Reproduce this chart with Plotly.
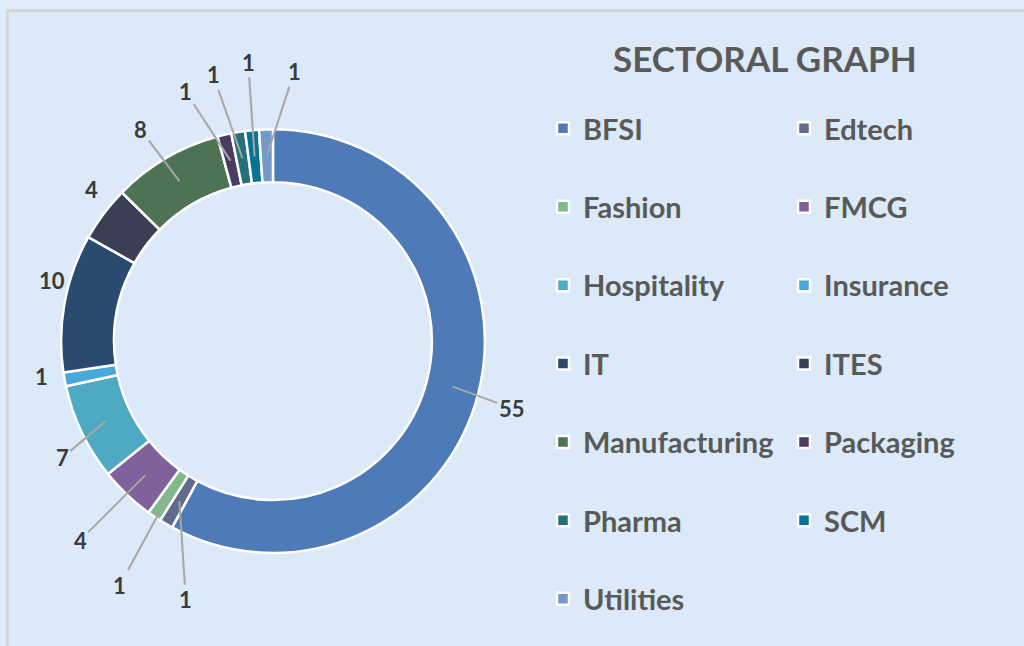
import math
import plotly.graph_objects as go

# sector counts, read clockwise from 12 o'clock
sectors = ["BFSI", "Edtech", "Fashion", "FMCG", "Hospitality", "Insurance", "IT",
           "ITES", "Manufacturing", "Packaging", "Pharma", "SCM", "Utilities"]
counts = [55, 1, 1, 4, 7, 1, 10, 4, 8, 1, 1, 1, 1]
colors = ["#4e7ab8", "#636b8c", "#80ba8a", "#7f629b", "#4ea9c3", "#4aa7da", "#2b4a70",
          "#3a3f55", "#4e7254", "#4a3b64", "#24707b", "#087397", "#7399c8"]

# where each data label sits: turn (deg) off the slice middle, distance from centre (px)
lbl_turn = [1.5, -11.7, -2, 0.5, -3.4, 1.8, 5, 2.9, -1.7, -6, -3.2, 0.6, 6.4]
lbl_dist = [248, 273, 288, 277, 241, 234, 229, 236, 249, 264, 273, 280, 270]
lbl_line = [True, True, True, True, True, False, False, False, True, True, True, True, True]

W, H = 1024, 646
PLOT_W = 540  # plot area width, legend goes right of it
dom_x = [0.113, 0.898]
dom_y = [0.144, 0.800]
hole = 0.75

cx = (dom_x[0] + dom_x[1]) / 2 * PLOT_W
cy = H - (dom_y[0] + dom_y[1]) / 2 * H
R = min((dom_x[1] - dom_x[0]) * PLOT_W, (dom_y[1] - dom_y[0]) * H) / 2
r_mid = R * (1 + hole) / 2


def to_px(ang, rad):
    a = math.radians(ang)
    return cx + rad * math.sin(a), cy - rad * math.cos(a)


fig = go.Figure()
fig.add_trace(go.Pie(
    labels=[s + "<br> " for s in sectors],
    values=counts,
    hole=hole,
    sort=False,
    direction="clockwise",
    rotation=0,
    textinfo="none",
    marker=dict(colors=colors, line=dict(color="white", width=2.5)),
    domain=dict(x=dom_x, y=dom_y),
))

total = sum(counts)
annos = []
run = 0
for i, v in enumerate(counts):
    mid = (run + v / 2) / total * 360
    run += v
    hx, hy = to_px(mid, r_mid)
    tx, ty = to_px(mid + lbl_turn[i], lbl_dist[i])
    a = dict(text=str(v), xref="paper", yref="paper", xanchor="center", yanchor="middle",
             font=dict(family="Lato", size=22, color="#3a3a3a", weight="bold"))
    if lbl_line[i]:
        a.update(x=hx / PLOT_W, y=1 - hy / H, ax=tx - hx, ay=ty - hy, showarrow=True,
                 arrowhead=0, arrowwidth=2, arrowcolor="#a6a6a6", standoff=0)
    else:
        a.update(x=tx / PLOT_W, y=1 - ty / H, showarrow=False)
    annos.append(a)

annos.append(dict(text="SECTORAL GRAPH", x=765 / PLOT_W, y=1 - 58 / H, xref="paper", yref="paper",
                  showarrow=False, xanchor="center", yanchor="middle",
                  font=dict(family="Lato", size=35, color="#595959", weight="bold")))

fig.update_layout(
    width=W, height=H,
    margin=dict(l=0, r=W - PLOT_W, t=0, b=0, autoexpand=False),
    paper_bgcolor="#ddedfb",
    plot_bgcolor="#dbe9f8",
    annotations=annos,
    shapes=[dict(type="rect", xref="paper", yref="paper", layer="below",
                 x0=7.5 / PLOT_W, x1=(W + 20) / PLOT_W, y0=-0.05, y1=1 - 10.5 / H,
                 fillcolor="#dbe9f8", line=dict(color="#d2d2d2", width=2.5))],
    legend=dict(orientation="h", x=543 / PLOT_W, xanchor="left", y=1 - 103 / H, yanchor="top",
                entrywidth=196, valign="top", traceorder="normal", maxheight=1,
                font=dict(family="Lato", size=29, color="#595959", weight="bold"),
                bgcolor="rgba(0,0,0,0)"),
    showlegend=True,
)

# page has an 8px body margin by default; drop it so the figure sits at 0,0
fig.write_html("out.html", config={"displayModeBar": False},
               post_script="document.body.style.margin='0';document.body.style.background='#ddedfb';")
